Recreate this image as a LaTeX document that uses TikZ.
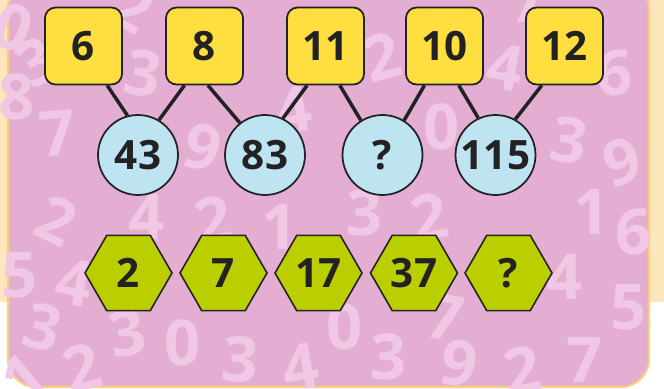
\documentclass[tikz,border=0pt]{standalone}
\usepackage{fontspec}
\setmainfont{Open Sans}
\usepackage{tikz}
\usetikzlibrary{shapes.geometric}
\definecolor{pinkbg}{RGB}{228,173,210}
\definecolor{pinkdigit}{RGB}{240,199,228}
\definecolor{panelorange}{RGB}{253,206,125}
\definecolor{beigebg}{RGB}{254,230,188}
\definecolor{sqyellow}{RGB}{255,222,64}
\definecolor{cblue}{RGB}{190,228,242}
\definecolor{hexgreen}{RGB}{186,206,0}
\definecolor{inkdark}{RGB}{34,34,34}

\begin{document}
\begin{tikzpicture}[x=0.02cm, y=-0.02cm,
    numsq/.style={rectangle, draw=inkdark, line width=1pt, fill=sqyellow, rounded corners=6pt,
                  minimum size=1.54cm, inner sep=0pt, font=\fontsize{23}{23}\selectfont\bfseries, text=inkdark},
    numcirc/.style={circle, draw=inkdark, line width=1pt, fill=cblue,
                    minimum size=1.6cm, inner sep=0pt, font=\fontsize{23}{23}\selectfont\bfseries, text=inkdark},
    numhex/.style={regular polygon, regular polygon sides=6, draw=inkdark, line width=0.9pt, fill=hexgreen,
                   minimum size=1.74cm, inner sep=0pt, font=\fontsize{23}{23}\selectfont\bfseries, text=inkdark},
    bgnum/.style={font=\fontsize{36}{36}\selectfont\bfseries, text=pinkdigit, inner sep=0pt},
    link/.style={line width=2pt, inkdark}
]
\useasboundingbox (0,0) rectangle (664,389);
\clip (0,0) rectangle (664,389);

% panels
\fill[beigebg, rounded corners=15] (-20,-20) rectangle (684,302);
\draw[fill=pinkbg, draw=panelorange, line width=1.2pt, rounded corners=16] (8,-20) rectangle (649,387);

% faded digits in the background
\foreach \x/\y/\d/\r [count=\i] in {
    13/27/0/-20, 37/62/3/30, 143/73/3/-10, 17/97/8/0, 58/133/7/5, 203/147/9/-15,
    133/8/2/-30, 293/110/4/10, 382/57/2/15, 505/67/4/-10, 615/73/6/0,
    442/127/0/0, 569/140/3/-10, 622/162/9/15, 529/0/7/0,
    57/220/2/-25, 147/217/4/0, 213/220/2/10, 280/227/1/0, 20/275/5/0, 74/282/4/-10,
    43/327/3/-15, 127/333/3/10, 183/343/0/0, 240/360/3/-5, 300/367/4/10, 82/368/2/15,
    24/378/1/40, 365/213/3/0, 429/217/2/10, 592/212/1/0, 634/232/6/0, 565/277/4/0,
    629/307/5/0, 345/327/0/0, 445/317/7/-10, 389/357/3/0, 459/363/9/-10, 522/370/2/10,
    585/360/7/0}
  \node[bgnum, rotate=\r] (bg\i) at (\x,\y) {\d};

% top row
\node[numsq] (s6)  at (83.5,46)  {6};
\node[numsq] (s8)  at (204.5,46) {8};
\node[numsq] (s11) at (325.5,46) {11};
\node[numsq] (s10) at (444.5,46) {10};
\node[numsq] (s12) at (564.5,46) {12};

% middle row
\node[numcirc] (c43)  at (138,155)   {43};
\node[numcirc] (c83)  at (265,155)   {83};
\node[numcirc] (cq)   at (382.5,155) {?};
\node[numcirc] (c115) at (495.5,155) {115};

% bottom row
\node[numhex] (h2)  at (128.5,273) {2};
\node[numhex] (h7)  at (223.5,273) {7};
\node[numhex] (h17) at (318.5,273) {17};
\node[numhex] (h37) at (414,273)   {37};
\node[numhex] (hq)  at (508.5,273) {?};

\draw[link] (s6.-59)   -- (c43.105);
\draw[link] (s8.-117)  -- (c43.59);
\draw[link] (s8.-85)   -- (c83.128);
\draw[link] (s11.-115) -- (c83.64);
\draw[link] (s11.-70)  -- (cq.122);
\draw[link] (s10.-117) -- (cq.58);
\draw[link] (s10.-70)  -- (c115.115);
\draw[link] (s12.-120) -- (c115.61);
\end{tikzpicture}
\end{document}
